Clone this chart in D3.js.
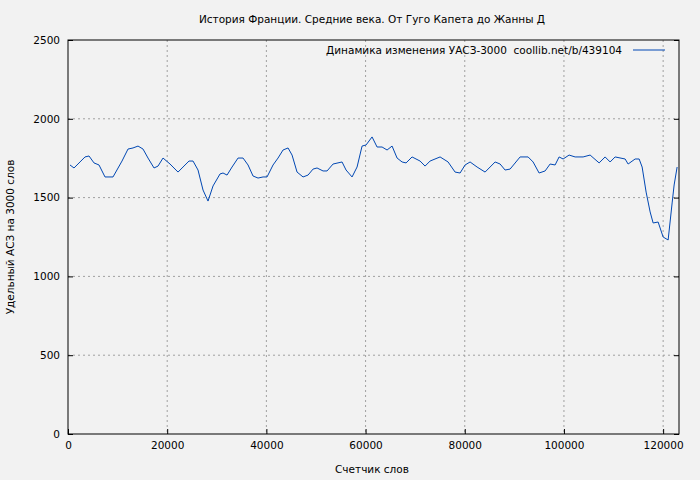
<!DOCTYPE html>
<html><head><meta charset="utf-8">
<script src="https://cdn.jsdelivr.net/npm/d3@7"></script>
<style>body{margin:0;background:#f2f2f2}svg{display:block}text{font-family:"DejaVu Sans",sans-serif;font-size:10.5px;fill:#000;white-space:pre}</style>
</head><body><svg id="c" width="700" height="480"></svg>
<script>
const xs=[403,1210,2420,3429,4235,5244,6252,7462,9076,10891,12101,13109,14118,15126,16134,17344,18151,19160,20571,22185,23193,24403,25210,26218,27227,28235,29244,30655,31260,32067,33075,34286,35294,36302,37311,38319,39328,40134,41345,42353,43361,44370,45176,46185,47395,48403,49412,50218,51429,52235,53445,55260,56067,57277,58286,59294,60101,61311,62319,63328,64336,65345,66353,67361,68168,69378,70991,72000,73008,75025,76639,78050,79059,80067,81076,82487,84101,86118,87126,88134,89143,91160,92773,93782,94992,96202,97210,98218,99025,99832,101042,102252,103866,105277,107092,108303,109311,110319,112336,112941,114353,115160,115765,116571,117378,117983,118992,120000,121008,121815,122218,122823];
const ys=[1707,1688,1726,1758,1764,1720,1707,1631,1631,1732,1808,1815,1827,1808,1751,1688,1700,1751,1713,1662,1694,1732,1732,1675,1548,1478,1574,1650,1656,1643,1694,1751,1751,1707,1637,1624,1631,1631,1707,1751,1802,1815,1770,1662,1631,1643,1681,1688,1669,1669,1713,1726,1675,1631,1694,1827,1834,1885,1821,1821,1802,1827,1751,1726,1720,1758,1732,1700,1732,1758,1726,1662,1656,1707,1726,1694,1662,1726,1713,1675,1681,1758,1758,1726,1656,1669,1713,1707,1758,1745,1770,1758,1758,1770,1720,1758,1726,1758,1745,1713,1745,1745,1694,1535,1409,1339,1345,1250,1231,1466,1580,1694];
const xTicks=[0,20000,40000,60000,80000,100000,120000];
const yTicks=[0,500,1000,1500,2000,2500];
const title="История Франции. Средние века. От Гуго Капета до Жанны Д";
const legend="Динамика изменения УАСЗ-3000  coollib.net/b/439104";
const svg=d3.select("#c");
const L=68,R=679,T=40,B=434;
const x=d3.scaleLinear().domain([0,123200]).range([L,R]);
const y=d3.scaleLinear().domain([0,2500]).range([B,T]);
svg.append("rect").attr("width",700).attr("height",480).attr("fill","#f2f2f2");
const g=svg.append("g");
xTicks.slice(1).forEach(t=>g.append("line").attr("x1",x(t)).attr("x2",x(t)).attr("y1",T).attr("y2",B).attr("stroke","#a0a0a0").attr("stroke-dasharray","2,3"));
yTicks.slice(1,-1).forEach(t=>g.append("line").attr("x1",L).attr("x2",R).attr("y1",y(t)).attr("y2",y(t)).attr("stroke","#a0a0a0").attr("stroke-dasharray","2,3"));
svg.append("rect").attr("x",L).attr("y",T).attr("width",R-L).attr("height",B-T).attr("fill","none").attr("stroke","#000");
const st=a=>{a.select(".domain").remove();a.selectAll("text").style("font-family","DejaVu Sans").style("font-size","10.5px")};
svg.append("g").attr("transform",`translate(0,${B})`).call(d3.axisBottom(x).tickValues(xTicks).tickFormat(d3.format("d")).tickSize(-5).tickPadding(8)).call(st);
svg.append("g").attr("transform",`translate(${L},0)`).call(d3.axisLeft(y).tickValues(yTicks).tickFormat(d3.format("d")).tickSize(-5).tickPadding(8)).call(st);
svg.append("g").attr("transform",`translate(${R},0)`).call(d3.axisRight(y).tickValues(yTicks).tickFormat("").tickSize(-5)).call(a=>a.select(".domain").remove());
svg.append("path").datum(xs.map((v,i)=>[v,ys[i]])).attr("fill","none").attr("stroke","#0047b3").attr("stroke-width",1).attr("d",d3.line().x(d=>x(d[0])).y(d=>y(d[1])));
svg.append("text").attr("x",372).attr("y",23).attr("text-anchor","middle").text(title);
svg.append("text").attr("x",372).attr("y",473).attr("text-anchor","middle").text("Счетчик слов");
svg.append("text").attr("transform","translate(14,237) rotate(-90)").attr("text-anchor","middle").text("Удельный АСЗ на 3000 слов");
svg.append("text").attr("x",622).attr("y",54).attr("text-anchor","end").text(legend);
svg.append("line").attr("x1",633).attr("x2",665).attr("y1",50).attr("y2",50).attr("stroke","#0047b3");
</script></body></html>
